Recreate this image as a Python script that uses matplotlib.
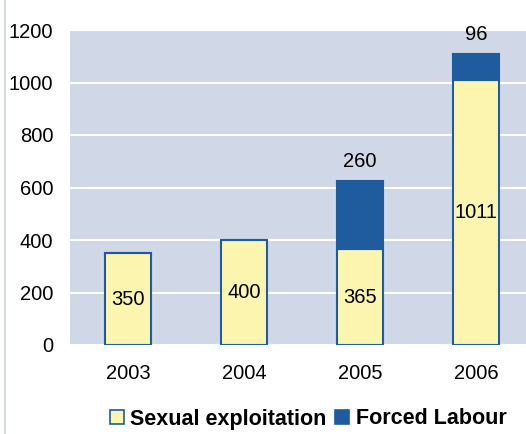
import matplotlib
matplotlib.use('Agg')
import matplotlib.pyplot as plt
import numpy as np
from matplotlib.lines import Line2D

plt.rcParams['font.family'] = ['Liberation Sans', 'DejaVu Sans']

years = ['2003', '2004', '2005', '2006']
sexual = [350, 400, 365, 1011]
forced = [0, 0, 260, 96]

fig = plt.figure(figsize=(5.26, 4.34), dpi=100)
ax = fig.add_axes([70 / 526, 89 / 434, 1 - 70 / 526, 315 / 434])
ax.set_facecolor('#d0d7e6')

x = np.arange(len(years))
yellow = '#fbf5b0'
blue = '#1f5c9e'
ax.bar(x, sexual, width=0.4, color=yellow, edgecolor=blue, linewidth=1.5, zorder=3,
       label='Sexual exploitation')
ax.bar(x, forced, width=0.4, bottom=sexual, color=blue, edgecolor=blue, linewidth=1.5,
       zorder=3, label='Forced Labour')

for i in range(len(years)):
    ax.text(x[i], sexual[i] / 2, str(sexual[i]), ha='center', va='center', fontsize=14.5, zorder=4)
    if forced[i] > 0:
        ax.text(x[i], sexual[i] + forced[i] + 38, str(forced[i]), ha='center', va='bottom',
                fontsize=14.5, zorder=4)

ax.set_ylim(0, 1200)
ax.set_xlim(-0.5, 3.43)
ax.set_yticks(range(0, 1201, 200))
ax.set_xticks(x)
ax.set_xticklabels(years)
ax.tick_params(length=0, labelsize=14.5)
ax.tick_params(axis='y', pad=12)
ax.tick_params(axis='x', pad=14)
ax.yaxis.grid(True, color='white', linewidth=1.5, zorder=1)
ax.set_axisbelow(True)
for s in ax.spines.values():
    s.set_visible(False)

# light vertical line at the left edge
fig.add_artist(Line2D([5 / 526, 5 / 526], [0, 1], color='#d3d9e6', linewidth=1.5))

handles = [
    plt.Rectangle((0, 0), 1, 1, facecolor=yellow, edgecolor=blue, linewidth=1.2),
    plt.Rectangle((0, 0), 1, 1, facecolor=blue, edgecolor=blue, linewidth=1.2),
]
fig.legend(handles, ['Sexual exploitation', 'Forced Labour'], loc='center',
           bbox_to_anchor=(308 / 526, 1 - 419 / 434), ncol=2, frameon=False,
           prop={'weight': 'bold', 'size': 15.5}, handlelength=0.65, handleheight=0.65,
           handletextpad=0.3, columnspacing=0.4)

fig.savefig('out.png', dpi=100)
